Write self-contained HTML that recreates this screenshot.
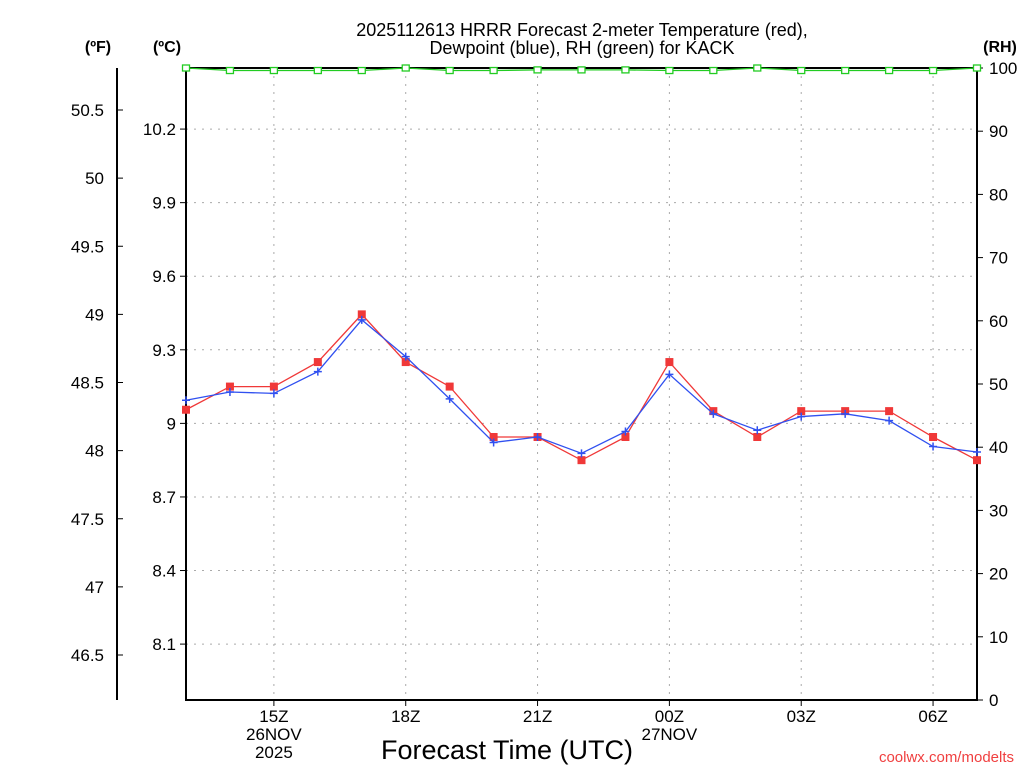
<!DOCTYPE html>
<html><head><meta charset="utf-8"><style>
body{margin:0;background:#fff;}
svg{display:block;font-family:"Liberation Sans","DejaVu Sans",sans-serif;}
</style></head><body>
<svg id="c" width="1024" height="768">
<text x="582" y="36" text-anchor="middle" font-size="18"><tspan x="582" y="36">2025112613 HRRR Forecast 2-meter Temperature (red),</tspan><tspan x="582" y="54">Dewpoint (blue), RH (green) for KACK</tspan></text>
<text x="98" y="52" text-anchor="middle" font-size="16" font-weight="bold">(ºF)</text>
<text x="167" y="52" text-anchor="middle" font-size="16" font-weight="bold">(ºC)</text>
<text x="1000" y="52" text-anchor="middle" font-size="16" font-weight="bold">(RH)</text>
<text x="507" y="759" text-anchor="middle" font-size="27">Forecast Time (UTC)</text>
<text x="1014" y="762" text-anchor="end" font-size="15" fill="#f04040">coolwx.com/modelts</text>
<g id="g"></g>
</svg>
<script>
const hours=[13,14,15,16,17,18,19,20,21,22,23,0,1,2,3,4,5,6,7];
const tempF=[48.3,48.47,48.47,48.65,49.0,48.65,48.47,48.1,48.1,47.93,48.1,48.65,48.29,48.1,48.29,48.29,48.29,48.1,47.93];
const dewF=[48.37,48.43,48.42,48.58,48.96,48.69,48.38,48.06,48.1,47.98,48.14,48.56,48.27,48.15,48.25,48.27,48.22,48.03,47.99];
const rh=[100,99.6,99.6,99.6,99.6,100,99.6,99.6,99.7,99.7,99.7,99.6,99.6,100,99.6,99.6,99.6,99.6,100];
const fTicks=[46.5,47,47.5,48,48.5,49,49.5,50,50.5];
const cTicks=[8.1,8.4,8.7,9.0,9.3,9.6,9.9,10.2];
const rhTicks=[0,10,20,30,40,50,60,70,80,90,100];
const xTicks=[{i:2,l:["15Z","26NOV","2025"]},{i:5,l:["18Z"]},{i:8,l:["21Z"]},{i:11,l:["00Z","27NOV"]},{i:14,l:["03Z"]},{i:17,l:["06Z"]}];
const L=186,R=977,T=68,B=700;
const x=i=>L+i*(R-L)/(hours.length-1);
const yF=f=>110+(50.5-f)*136.25;
const yC=c=>yF(c*9/5+32);
const yR=v=>B-(B-T)*v/100;
const g=document.getElementById('g');const NS='http://www.w3.org/2000/svg';
function mk(t,a,txt){const e=document.createElementNS(NS,t);for(const k in a)e.setAttribute(k,a[k]);if(txt!==undefined)e.textContent=txt;g.appendChild(e);return e;}
cTicks.forEach(c=>{const y=yC(c);
let e=mk('line',{x1:L,x2:R,y1:y,y2:y,stroke:'#aaa','stroke-dasharray':'2,6'});
e=mk('line',{x1:L-6,x2:L,y1:y,y2:y,stroke:'#000'});
e=mk('text',{x:L-10,y:y+6,'text-anchor':'end','font-size':17},c===9?'9':c.toFixed(1));});
fTicks.forEach(f=>{const y=yF(f);mk('line',{x1:117,x2:123,y1:y,y2:y,stroke:'#000'});
const e=mk('text',{x:104,y:y+6,'text-anchor':'end','font-size':17},String(f));});
rhTicks.forEach(v=>{const y=yR(v);mk('line',{x1:R,x2:R+6,y1:y,y2:y,stroke:'#000'});
const e=mk('text',{x:R+12,y:y+6,'font-size':17},String(v));});
xTicks.forEach(t=>{const xx=x(t.i);
let e=mk('line',{x1:xx,x2:xx,y1:T,y2:B,stroke:'#aaa','stroke-dasharray':'2,6'});
mk('line',{x1:xx,x2:xx,y1:B,y2:B+6,stroke:'#000'});
t.l.forEach((s,k)=>{const e2=mk('text',{x:xx,y:722+k*18,'text-anchor':'middle','font-size':17},s);});});
let e=mk('rect',{x:L,y:T,width:R-L,height:B-T,fill:'none',stroke:'#000','stroke-width':2});
mk('line',{x1:117,x2:117,y1:68,y2:700,stroke:'#000','stroke-width':2});
function series(vals,fy,col,name,marker){
 const pts=vals.map((v,i)=>x(i)+','+fy(v)).join(' ');
 const p=mk('polyline',{points:pts,fill:'none',stroke:col,'stroke-width':1.3});
 vals.forEach((v,i)=>{const X=x(i),Y=fy(v);let m;
  if(marker==='sq')m=mk('rect',{x:X-4,y:Y-4,width:8,height:8,fill:col});
  else if(marker==='hsq')m=mk('rect',{x:X-3.5,y:Y-3,width:7,height:6,fill:'#fff',stroke:col,'stroke-width':1.3});
  else m=mk('path',{d:`M${X-4},${Y}H${X+4}M${X},${Y-4}V${Y+4}`,stroke:col,'stroke-width':1.5});
  });}
series(rh,yR,'#22cc22','rh','hsq');
series(tempF,yF,'#f03838','temperature','sq');
series(dewF,yF,'#3050f0','dewpoint','plus');
</script>
</body></html>
